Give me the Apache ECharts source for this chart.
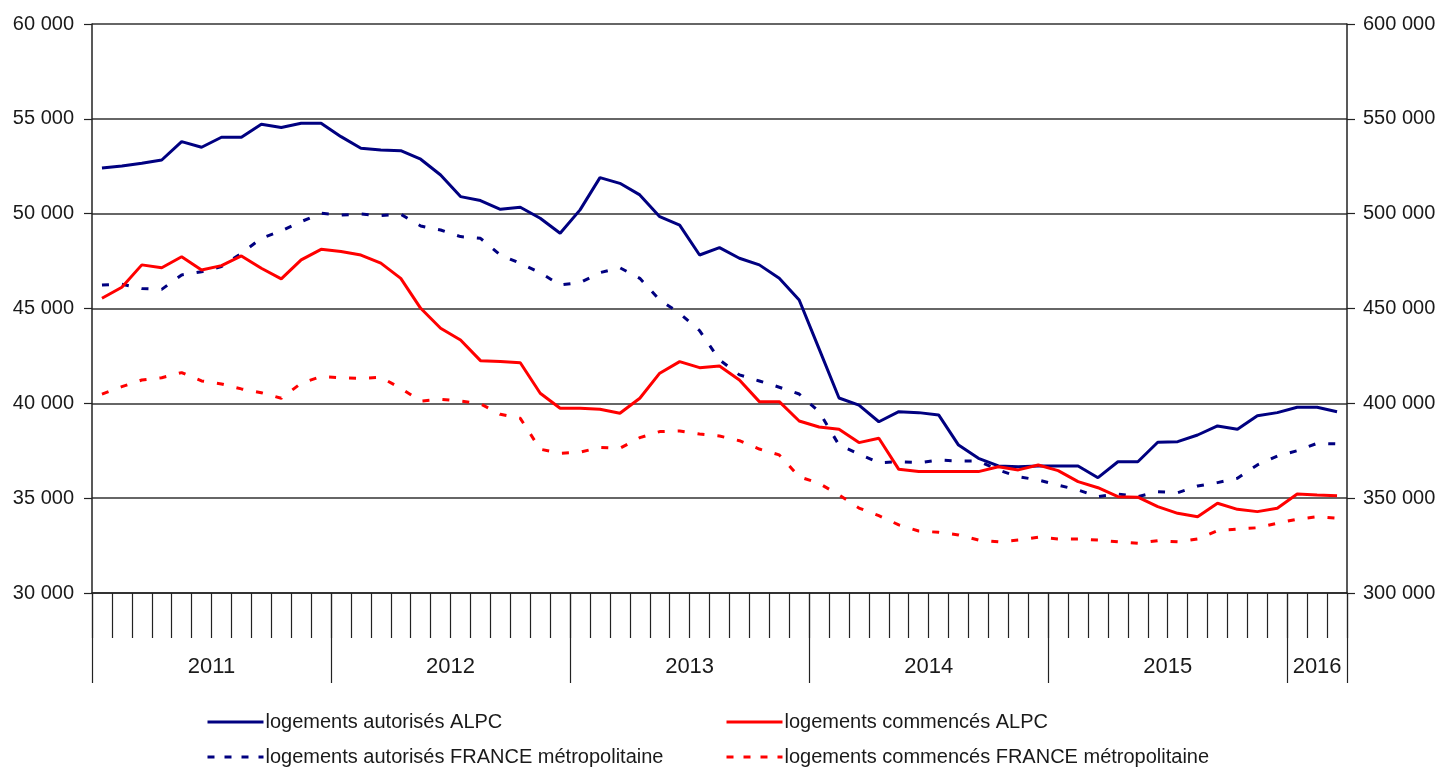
<!DOCTYPE html>
<html>
<head>
<meta charset="utf-8">
<script src="https://cdn.jsdelivr.net/npm/echarts@6/dist/echarts.min.js"></script>
<style>
html,body{margin:0;padding:0;background:#fff;}
#chart{width:1439px;height:769px;}
</style>
</head>
<body>
<div id="chart"></div>
<script>
// ---- data ----
const yearLabels = ['2011', '2012', '2013', '2014', '2015', '2016'];
const monthsPerYear = [12, 12, 12, 12, 12, 3];
const leftTicks = [30000, 35000, 40000, 45000, 50000, 55000, 60000];
const rightTicks = [300000, 350000, 400000, 450000, 500000, 550000, 600000];

const seriesNames = [
  'logements autorisés ALPC',
  'logements commencés ALPC',
  'logements autorisés FRANCE métropolitaine',
  'logements commencés FRANCE métropolitaine'
];

const autorisesALPC = [
  52410, 52515, 52660, 52830, 53800, 53500, 54030, 54030, 54710, 54540, 54770, 54770,
  54060, 53450, 53360, 53320, 52870, 52040, 50900, 50690, 50230, 50340, 49760, 48970,
  50200, 51900, 51600, 50990, 49840, 49400, 47820, 48210, 47650, 47300, 46600, 45450,
  42870, 40280, 39910, 39030, 39560, 39510, 39390, 37800, 37100, 36700, 36660, 36700,
  36700, 36700, 36080, 36920, 36920, 37950, 37980, 38330, 38810, 38630, 39350, 39510,
  39790, 39790, 39560
];
const commencesALPC = [
  45540, 46120, 47300, 47150, 47730, 47030, 47260, 47770, 47120, 46560, 47560, 48120,
  48000, 47820, 47390, 46590, 45010, 43960, 43340, 42250, 42200, 42140, 40530, 39740,
  39740, 39690, 39480, 40270, 41590, 42200, 41880, 41970, 41230, 40090, 40090, 39070,
  38750, 38630, 37930, 38160, 36520, 36400, 36400, 36400, 36400, 36660, 36490, 36750,
  36450, 35870, 35550, 35080, 35050, 34550, 34200, 34020, 34730, 34410, 34290, 34470,
  35220, 35170, 35130
];
const autorisesFrance = [
  462400, 462800, 460500, 460100, 467700, 469400, 472100, 479100, 487000, 490900, 495800, 500200,
  499300, 499800, 499000, 499700, 493500, 491400, 487900, 487000, 478200, 473800, 468900, 462400,
  463600, 468900, 471500, 465900, 454500, 447500, 438300, 422900, 415000, 411800, 408500, 404900,
  395600, 378000, 373300, 368700, 369200, 368700, 370100, 369600, 369600, 364900, 361300, 359600,
  356900, 354300, 350800, 352200, 350800, 353400, 352900, 356400, 358200, 360500, 367500, 372200,
  375000, 378900, 378600
];
const commencesFrance = [
  404900, 408800, 412300, 413500, 416200, 411800, 410200, 407600, 405600, 402700, 410600, 414100,
  413500, 413200, 413700, 407900, 401200, 402100, 401200, 399700, 394200, 392100, 375800, 373700,
  374200, 376800, 376300, 381900, 385100, 385400, 383800, 382800, 380300, 375900, 372800, 361300,
  357800, 351700, 344800, 340800, 335900, 332700, 332000, 330600, 327900, 327000, 327900, 329400,
  328500, 328500, 327900, 327000, 326200, 327600, 327000, 328500, 332900, 333700, 334400, 336800,
  338900, 340200, 339400
];

// ---- derived axis helpers ----
const months = [];
const yearBounds = [0];
yearLabels.forEach((y, k) => {
  for (let m = 1; m <= monthsPerYear[k]; m++) months.push(y + '-' + String(m).padStart(2, '0'));
  yearBounds.push(yearBounds[yearBounds.length - 1] + monthsPerYear[k]);
});
const yearCenters = yearLabels.map((y, k) => (yearBounds[k] + yearBounds[k + 1]) / 2);

const FONT = "'Liberation Sans', Arial, sans-serif";
const TXT = '#1a1a1a';
const AX = '#222';
const fmt = v => String(v).replace(/\B(?=(\d{3})+(?!\d))/g, ' ');

const navy = '#000080';
const red = '#ff0000';

function legendAt(name, left, top, dashed) {
  return {
    data: [name], left: left, top: top, orient: 'horizontal',
    itemWidth: 56, itemHeight: 14, itemGap: 0, padding: 0,
    itemStyle: { opacity: 0 },
    lineStyle: { width: 3, type: dashed ? [7, 10] : 'solid' },
    textStyle: { fontFamily: FONT, fontSize: 20, color: TXT, padding: [0, 0, 0, -3] },
    selectedMode: false
  };
}

const chart = echarts.init(document.getElementById('chart'), null, { renderer: 'canvas' });
chart.setOption({
  animation: false,
  backgroundColor: '#fff',
  textStyle: { fontFamily: FONT },
  grid: { left: 92, right: 92, top: 24, bottom: 176, containLabel: false, outerBoundsMode: 'none' },
  legend: [
    legendAt(seriesNames[0], 206, 712, false),
    legendAt(seriesNames[1], 725, 712, false),
    legendAt(seriesNames[2], 206, 747, true),
    legendAt(seriesNames[3], 725, 747, true)
  ],
  xAxis: [
    {
      type: 'category', data: months, boundaryGap: true, position: 'bottom',
      axisLine: { show: true, onZero: false, lineStyle: { color: AX, width: 1.5 } },
      axisTick: { show: true, interval: 0, length: 45, lineStyle: { color: AX, width: 1.2 } },
      axisLabel: { show: false },
      splitLine: { show: false }
    },
    {
      type: 'value', min: 0, max: yearBounds[yearBounds.length - 1], position: 'bottom',
      axisLine: { show: false, onZero: false },
      axisTick: { show: true, customValues: yearBounds, length: 90, lineStyle: { color: AX, width: 1.2 } },
      axisLabel: {
        show: true, customValues: yearCenters, margin: 63,
        fontFamily: FONT, fontSize: 22, color: TXT,
        formatter: v => { const i = yearCenters.indexOf(v); return i >= 0 ? yearLabels[i] : ''; }
      },
      splitLine: { show: false }
    }
  ],
  yAxis: [
    {
      type: 'value', position: 'left', min: leftTicks[0], max: leftTicks[leftTicks.length - 1],
      interval: leftTicks[1] - leftTicks[0],
      axisLine: { show: true, lineStyle: { color: AX, width: 1.5 } },
      axisTick: { show: true, length: 8, lineStyle: { color: AX, width: 1.2 } },
      axisLabel: { margin: 18, fontFamily: FONT, fontSize: 20, color: TXT, formatter: fmt },
      splitLine: { show: true, lineStyle: { color: '#333', width: 1.5 } }
    },
    {
      type: 'value', position: 'right', min: rightTicks[0], max: rightTicks[rightTicks.length - 1],
      interval: rightTicks[1] - rightTicks[0],
      axisLine: { show: true, lineStyle: { color: AX, width: 1.5 } },
      axisTick: { show: true, length: 8, lineStyle: { color: AX, width: 1.2 } },
      axisLabel: { margin: 16, fontFamily: FONT, fontSize: 20, color: TXT, formatter: fmt },
      splitLine: { show: false }
    }
  ],
  series: [
    {
      name: seriesNames[0], type: 'line', data: autorisesALPC, xAxisIndex: 0, yAxisIndex: 0,
      symbol: 'none', lineStyle: { color: navy, width: 3 }, itemStyle: { color: navy }, z: 4
    },
    {
      name: seriesNames[1], type: 'line', data: commencesALPC, xAxisIndex: 0, yAxisIndex: 0,
      symbol: 'none', lineStyle: { color: red, width: 3 }, itemStyle: { color: red }, z: 4
    },
    {
      name: seriesNames[2], type: 'line', data: autorisesFrance, xAxisIndex: 0, yAxisIndex: 1,
      symbol: 'none', lineStyle: { color: navy, width: 3, type: [7, 13] }, itemStyle: { color: navy }, z: 3
    },
    {
      name: seriesNames[3], type: 'line', data: commencesFrance, xAxisIndex: 0, yAxisIndex: 1,
      symbol: 'none', lineStyle: { color: red, width: 3, type: [7, 13] }, itemStyle: { color: red }, z: 3
    }
  ]
});
</script>
</body>
</html>
